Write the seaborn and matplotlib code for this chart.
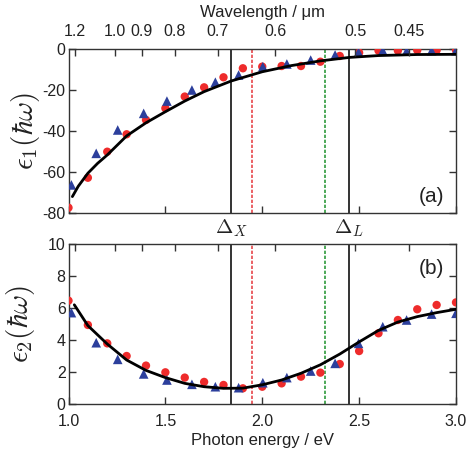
import numpy as np
import pandas as pd
import matplotlib
matplotlib.use("Agg")
import matplotlib.pyplot as plt
import seaborn as sns

# ---------------- data ----------------
# panel (a): eps1
red_E_a = [1.0, 1.1, 1.2, 1.3, 1.4, 1.5, 1.6, 1.7, 1.8, 1.9, 2.0, 2.1, 2.2, 2.3, 2.4, 2.5, 2.6, 2.7, 2.8, 2.9, 3.0]
red_eps1 = [-77.4, -62.8, -50.1, -41.6, -34.6, -28.9, -23.2, -18.7, -13.8, -9.4, -8.6, -8.3, -8.3, -6.2, -3.4, -1.8, -0.8, -0.8, -0.6, -0.6, -0.6]
blue_E = [1.015, 1.143, 1.254, 1.388, 1.508, 1.637, 1.758, 1.878, 2.003, 2.127, 2.25, 2.376, 2.497, 2.622, 2.745, 2.874, 3.0]
blue_eps1 = [-66.3, -50.9, -39.5, -31.4, -25.4, -20.0, -16.2, -12.7, -8.6, -7.3, -5.4, -2.9, -1.6, -0.8, -1.0, -0.8, -0.8]
fit_E_a = [1.02, 1.05, 1.1, 1.15, 1.2, 1.3, 1.4, 1.5, 1.6, 1.7, 1.84, 2.0, 2.15, 2.3, 2.45, 2.6, 2.8, 3.0]
fit_eps1 = [-72.0, -67.0, -60.6, -55.8, -51.7, -42.4, -36.0, -30.6, -25.4, -20.8, -15.6, -11.1, -8.1, -5.8, -4.1, -3.2, -2.7, -2.6]

# panel (b): eps2
red_E_b = [1.0, 1.1, 1.2, 1.3, 1.4, 1.5, 1.6, 1.7, 1.8, 1.9, 2.0, 2.1, 2.2, 2.3, 2.4, 2.5, 2.6, 2.7, 2.8, 2.9, 3.0]
red_eps2 = [6.46, 4.94, 3.79, 3.0, 2.4, 1.98, 1.65, 1.38, 1.19, 0.98, 1.08, 1.29, 1.71, 1.96, 2.5, 3.31, 4.42, 5.25, 5.92, 6.19, 6.35]
blue_eps2 = [5.71, 3.83, 2.79, 1.88, 1.5, 1.23, 1.08, 1.02, 1.33, 1.65, 2.06, 2.54, 3.79, 4.83, 5.25, 5.62, 5.67]
fit_E_b = [1.03, 1.1, 1.2, 1.3, 1.4, 1.5, 1.6, 1.7, 1.8, 1.9, 2.0, 2.1, 2.2, 2.3, 2.4, 2.5, 2.6, 2.7, 2.8, 2.9, 3.0]
fit_eps2 = [6.2, 4.9, 3.75, 2.75, 2.1, 1.65, 1.29, 1.08, 0.98, 0.99, 1.2, 1.5, 1.92, 2.45, 3.12, 3.88, 4.6, 5.12, 5.46, 5.71, 5.92]

# reference lines (eV)
vline_E = [1.84, 1.947, 2.325, 2.447]
vline_names = ["DX", "red", "green", "DL"]

# top axis wavelength ticks (um)
wl_ticks = [1.2, 1.0, 0.9, 0.8, 0.7, 0.6, 0.5, 0.45]
wl_labels = ["1.2", "1.0", "0.9", "0.8", "0.7", "0.6", "0.5", "0.45"]

e_ticks = [1.0, 1.5, 2.0, 2.5, 3.0]
e_labels = ["1.0", "1.5", "2.0", "2.5", "3.0"]

# ---------------- style ----------------
sns.set_theme(style="ticks")
plt.rcParams["font.family"] = ["Liberation Sans", "DejaVu Sans"]
plt.rcParams["mathtext.fontset"] = "cm"
plt.rcParams["axes.unicode_minus"] = False

RED = "#ee2b2b"
BLUE = "#2c3f9c"
SPINE = "#333333"
TXT = "#222222"

fig = plt.figure(figsize=(4.67, 4.51), dpi=100)
L, W = 68.5 / 467, (456 - 68.5) / 467
ax_a = fig.add_axes([L, 1 - 213 / 451, W, (213 - 49) / 451])
ax_b = fig.add_axes([L, 1 - 404 / 451, W, (404 - 244) / 451])

df_a_red = pd.DataFrame({"E": red_E_a, "v": red_eps1})
df_a_blue = pd.DataFrame({"E": blue_E, "v": blue_eps1})
df_a_fit = pd.DataFrame({"E": fit_E_a, "v": fit_eps1})
df_b_red = pd.DataFrame({"E": red_E_b, "v": red_eps2})
df_b_blue = pd.DataFrame({"E": blue_E, "v": blue_eps2})
df_b_fit = pd.DataFrame({"E": fit_E_b, "v": fit_eps2})

wl_pos = [1.2398 / l for l in wl_ticks]

for ax, dred, dblue, dfit, ylim, yticks in [
    (ax_a, df_a_red, df_a_blue, df_a_fit, (-80, 0), [-80, -60, -40, -20, 0]),
    (ax_b, df_b_red, df_b_blue, df_b_fit, (0, 10), [0, 2, 4, 6, 8, 10]),
]:
    for E, nm in zip(vline_E, vline_names):
        if nm in ("DX", "DL"):
            ax.axvline(E, color="#111111", lw=1.2, zorder=1)
        elif nm == "red":
            ax.axvline(E, color="#e8454a", lw=1.2, ls=(0, (2.0, 1.0)), zorder=1)
        else:
            ax.axvline(E, color="#2f9a3c", lw=1.2, ls=(0, (2.0, 1.0)), zorder=1)
    sns.scatterplot(data=dred, x="E", y="v", ax=ax, color=RED, marker="o", s=36,
                    edgecolor="none", zorder=3, legend=False)
    sns.scatterplot(data=dblue, x="E", y="v", ax=ax, color=BLUE, marker="^", s=48,
                    edgecolor="none", zorder=3, legend=False)
    sns.lineplot(data=dfit, x="E", y="v", ax=ax, color="black", lw=2.0, zorder=4,
                 sort=False, legend=False)
    ax.set_xlim(1.0, 3.0)
    ax.set_ylim(*ylim)
    ax.set_yticks(yticks)
    ax.set_xlabel("")
    ax.set_ylabel("")
    for s in ax.spines.values():
        s.set_color(SPINE)
        s.set_linewidth(1.0)
    ax.tick_params(direction="in", length=5, width=1.0, color=SPINE,
                   labelsize=11.5, right=True, pad=2, labelcolor=TXT)
    ax.tick_params(axis="x", pad=7)
    ax.tick_params(axis="y", labelright=False)
    # top wavelength ticks
    top = ax.twiny()
    top.set_xlim(1.0, 3.0)
    top.set_xticks(wl_pos)
    top.tick_params(direction="in", length=5, width=1.0, color=SPINE, labelsize=11.5,
                    pad=7, labelcolor=TXT)
    for s in top.spines.values():
        s.set_visible(False)
    if ax is ax_a:
        top.set_xticklabels(wl_labels)
        top.set_xlabel("Wavelength / μm", fontsize=12, labelpad=5, color=TXT)
    else:
        top.set_xticklabels([])

ax_a.set_xticks(e_ticks)
ax_a.set_xticklabels([])
ax_b.set_xticks(e_ticks)
ax_b.set_xticklabels(e_labels)
ax_b.set_xlabel("Photon energy / eV", fontsize=12, labelpad=3, color=TXT)

ax_a.set_ylabel(r"$\epsilon_1(\hbar\omega)$", fontsize=21, labelpad=0, color=TXT)
ax_b.set_ylabel(r"$\epsilon_2(\hbar\omega)$", fontsize=21, labelpad=8, color=TXT)

ax_a.text(0.97, 0.1, "(a)", transform=ax_a.transAxes, ha="right", va="center",
          fontsize=15, color=TXT)
ax_b.text(0.97, 0.85, "(b)", transform=ax_b.transAxes, ha="right", va="center",
          fontsize=15, color=TXT)

# Delta labels between panels
fig.text(L + W * (1.84 - 1.0) / 2.0, 1 - 228 / 451, r"$\Delta_X$",
         ha="center", va="center", fontsize=15, color=TXT)
fig.text(L + W * (2.447 - 1.0) / 2.0, 1 - 228 / 451, r"$\Delta_L$",
         ha="center", va="center", fontsize=15, color=TXT)

fig.savefig("out.png", dpi=100)
